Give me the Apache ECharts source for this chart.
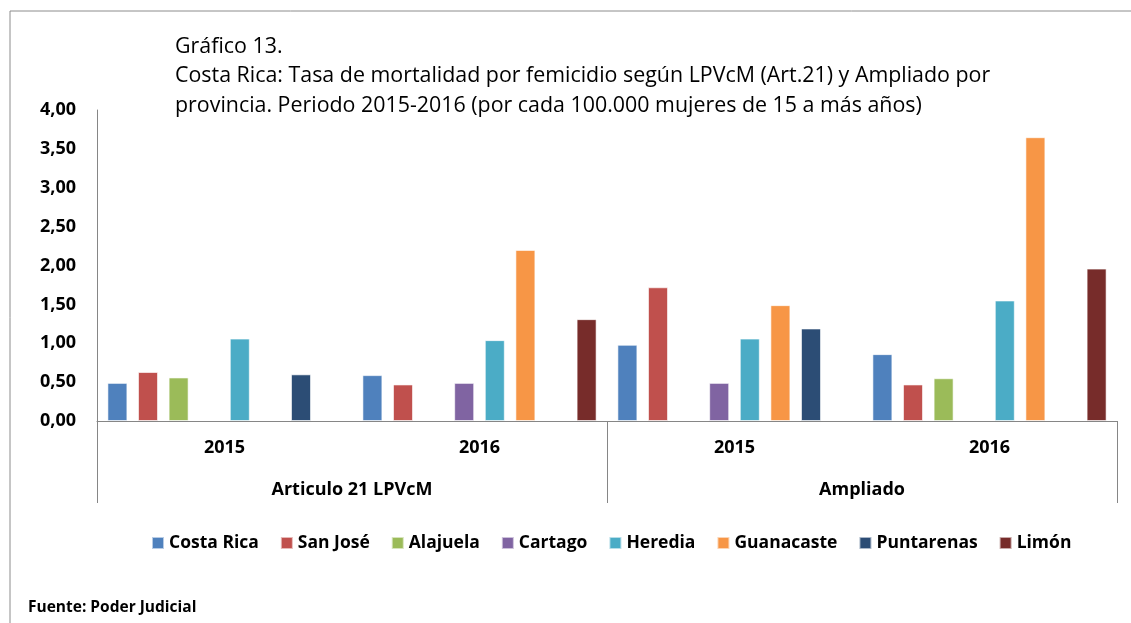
<!DOCTYPE html>
<html>
<head>
<meta charset="utf-8">
<script src="https://cdn.jsdelivr.net/npm/echarts@6/dist/echarts.min.js"></script>
<style>
  html, body { margin: 0; padding: 0; background: #fff; }
  #main { width: 1131px; height: 623px; }
</style>
</head>
<body>
<div id="main"></div>
<script>
  // categories (two levels)
  var years = ['2015', '2016', '2015', '2016'];
  var groups = ['Articulo 21 LPVcM', 'Ampliado'];
  var provinces = ['Costa Rica', 'San José', 'Alajuela', 'Cartago', 'Heredia', 'Guanacaste', 'Puntarenas', 'Limón'];
  var colors = ['#4F81BD', '#C0504D', '#9BBB59', '#8064A2', '#4BACC6', '#F79646', '#2C4D75', '#772C2A'];

  // values per province: [Art21 2015, Art21 2016, Ampliado 2015, Ampliado 2016]
  var costaRica  = [0.49, 0.59, 0.98, 0.86];
  var sanJose    = [0.63, 0.47, 1.72, 0.47];
  var alajuela   = [0.56, null, null, 0.55];
  var cartago    = [null, 0.49, 0.49, null];
  var heredia    = [1.06, 1.04, 1.06, 1.55];
  var guanacaste = [null, 2.20, 1.49, 3.65];
  var puntarenas = [0.60, null, 1.19, null];
  var limon      = [null, 1.31, null, 1.96];
  var seriesData = [costaRica, sanJose, alajuela, cartago, heredia, guanacaste, puntarenas, limon];

  var font = 'Open Sans';
  var myChart = echarts.init(document.getElementById('main'));

  var option = {
    animation: false,
    color: colors,
    textStyle: { fontFamily: font },
    graphic: [
      {
        type: 'rect',
        shape: { x: 10, y: 11, width: 1140, height: 640 },
        style: { fill: 'none', stroke: '#8c8c8c', lineWidth: 1 }
      },
      {
        type: 'text',
        left: 175, top: 32,
        style: {
          text: 'Gráfico 13.\nCosta Rica: Tasa de mortalidad por femicidio según LPVcM (Art.21) y Ampliado por\nprovincia. Periodo 2015-2016 (por cada 100.000 mujeres de 15 a más años)',
          font: '21.4px "Open Sans"',
          lineHeight: 29.5,
          fill: '#000'
        }
      },
      {
        type: 'text',
        left: 28, top: 600,
        style: { text: 'Fuente: Poder Judicial', font: 'bold 15.5px "Open Sans"', fill: '#000' }
      }
    ],
    grid: { left: 97, right: 14, top: 110, bottom: 202 },
    legend: {
      data: provinces,
      left: 146, top: 529,
      itemWidth: 12, itemHeight: 12, itemGap: 21,
      icon: 'rect',
      textStyle: { fontSize: 17.5, fontWeight: 'bold', color: '#000', fontFamily: font }
    },
    xAxis: [
      {
        type: 'category',
        data: years,
        axisLine: { lineStyle: { color: '#868686' } },
        axisTick: { show: false },
        axisLabel: { margin: 18, fontSize: 18, fontWeight: 'bold', color: '#000' }
      },
      {
        type: 'category',
        data: groups,
        position: 'bottom',
        axisLine: { show: false },
        axisTick: { show: true, length: 82, lineStyle: { color: '#868686' } },
        axisLabel: { margin: 60, fontSize: 18, fontWeight: 'bold', color: '#000' }
      }
    ],
    yAxis: {
      type: 'value',
      min: 0, max: 4, interval: 0.5,
      axisLine: { show: true, lineStyle: { color: '#868686' } },
      axisTick: { show: false },
      splitLine: { show: false },
      axisLabel: {
        margin: 21, fontSize: 18, fontWeight: 'bold', color: '#000',
        formatter: function (v) { return v.toFixed(2).replace('.', ','); }
      }
    },
    series: provinces.map(function (name, i) {
      return {
        name: name,
        type: 'bar',
        xAxisIndex: 0,
        data: seriesData[i],
        barWidth: 20,
        barGap: '53%',
        itemStyle: { borderColor: 'rgba(255,255,255,0.6)', borderWidth: 1 }
      };
    })
  };

  myChart.setOption(option);
</script>
</body>
</html>
